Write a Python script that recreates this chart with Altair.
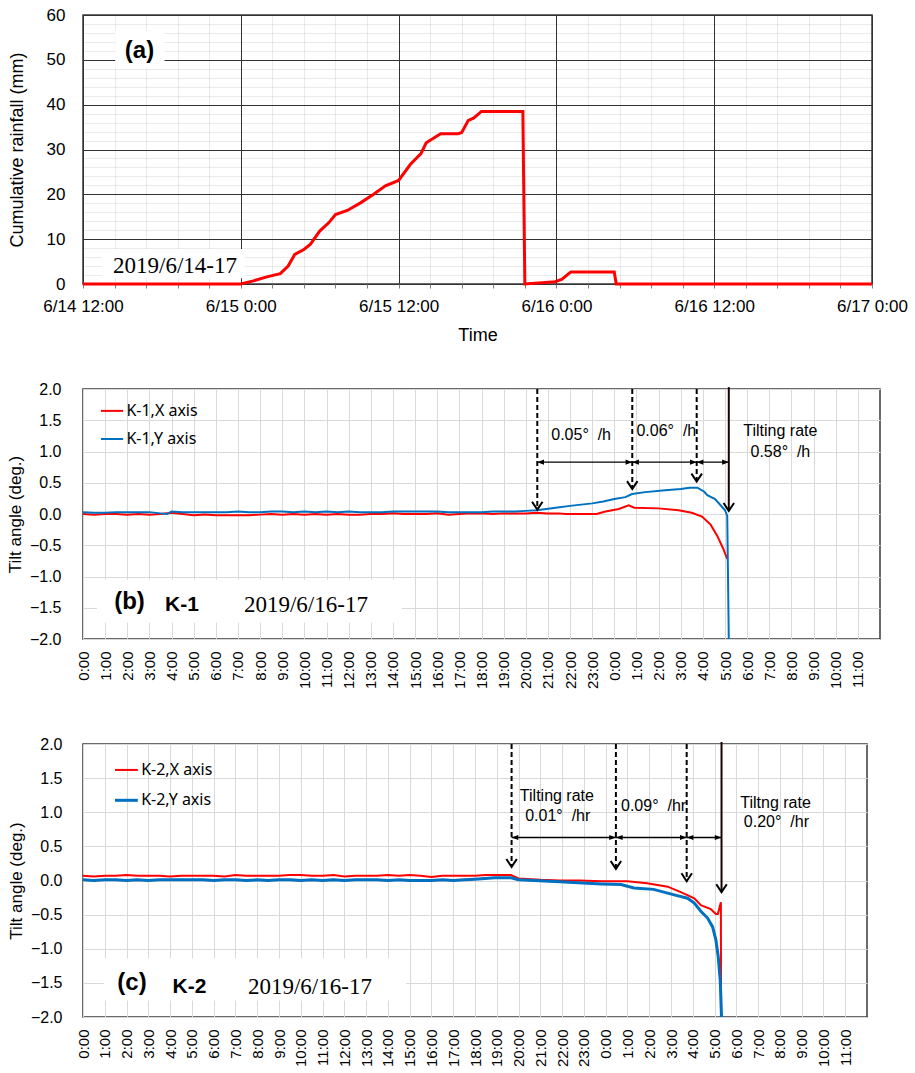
import json
import altair as alt
import pandas as pd

RED = "#ff0000"
BLUE = "#0070c0"
SANS = "Liberation Sans"
SERIF = "Liberation Serif"

# ---------------- Panel (a): cumulative rainfall ----------------
# hours since 6/14 12:00
rain_h = [0, 12.0, 12.96, 13.98, 15.0, 15.6, 16.1, 16.8, 17.3, 18.0, 18.7, 19.2, 20.1, 21.1,
          22.1, 23.0, 24.0, 24.9, 25.7, 26.1, 27.2, 28.5, 28.8, 29.3, 29.7, 30.3, 33.45,
          33.6, 34.9, 35.9, 36.4, 37.1, 40.4, 40.55, 60]
rain_mm = [0, 0, 0.7, 1.6, 2.3, 4.0, 6.6, 7.7, 8.9, 11.8, 13.7, 15.5, 16.4, 18.1,
           20.0, 21.9, 23.1, 26.7, 29.1, 31.5, 33.5, 33.5, 33.8, 36.5, 37.0, 38.5, 38.5,
           0, 0.3, 0.5, 1.0, 2.7, 2.7, 0, 0]
a_x_labels = ["6/14 12:00", "6/15 0:00", "6/15 12:00", "6/16 0:00", "6/16 12:00", "6/17 0:00"]
a_x_ticks = [round(i * 2.4, 4) for i in range(26)]
a_y_ticks = list(range(0, 61, 2))

# annotation texts/boxes for (a)
a_box_h, a_box_h2, a_box_v, a_box_v2 = [2.45, 1.45], [6.2, 12.3], [56.5, 7.8], [48.0, 1.3]
a_txt_h, a_txt_v = [4.3, 7.0], [52.0, 4.0]
a_txt = ["(a)", "2019/6/14-17"]

# ---------------- Panel (b): K-1 ----------------
hour_labels = ["0:00", "1:00", "2:00", "3:00", "4:00", "5:00", "6:00", "7:00", "8:00", "9:00",
               "10:00", "11:00", "12:00", "13:00", "14:00", "15:00", "16:00", "17:00", "18:00",
               "19:00", "20:00", "21:00", "22:00", "23:00", "0:00", "1:00", "2:00", "3:00",
               "4:00", "5:00", "6:00", "7:00", "8:00", "9:00", "10:00", "11:00"]

k1x_h = [0, 0.5, 1, 1.5, 2, 2.5, 3, 3.5, 4, 4.5, 5, 5.5, 6, 6.5, 7, 7.5, 8, 8.5, 9, 9.5, 10,
         10.5, 11, 11.5, 12, 12.5, 13, 13.5, 14, 14.5, 15, 15.5, 16, 16.5, 17, 17.5, 18, 18.5,
         19, 19.5, 20, 20.5, 21, 21.5, 21.8, 22.5, 23.2, 23.6, 24.2, 24.65, 24.9, 26.0, 26.9,
         27.5, 27.96, 28.35, 28.65, 28.9, 29.1]
k1x_v = [0.0, -0.01, 0.0, 0.0, -0.01, 0.0, -0.01, 0.0, 0.02, 0.0, -0.02, -0.01, -0.02, -0.02,
         -0.02, -0.02, -0.01, 0.0, -0.01, 0.0, -0.01, 0.0, -0.01, 0.0, -0.01, -0.01, 0.0, 0.0,
         0.01, 0.0, 0.0, 0.0, 0.01, -0.01, 0.0, 0.01, 0.01, 0.0, 0.01, 0.01, 0.01, 0.02, 0.01,
         0.01, 0.0, 0.0, 0.0, 0.04, 0.08, 0.14, 0.10, 0.09, 0.06, 0.02, -0.04, -0.17, -0.35,
         -0.54, -0.72]
k1y_h = [0, 0.5, 1, 1.5, 2, 2.5, 3, 3.5, 3.8, 4, 4.5, 5, 5.5, 6, 6.5, 7, 7.5, 8, 8.5, 9, 9.5,
         10, 10.5, 11, 11.5, 12, 12.5, 13, 13.5, 14, 14.5, 15, 15.5, 16, 16.5, 17, 17.5, 18,
         18.5, 19, 19.5, 20, 20.5, 21.35, 22, 23, 23.5, 24, 24.5, 24.8, 25.4, 26.3, 27.0,
         27.4, 27.75, 28.05, 28.2, 28.55, 28.9, 29.0, 29.1, 29.17]
k1y_v = [0.03, 0.02, 0.02, 0.03, 0.03, 0.03, 0.03, 0.01, 0.0, 0.04, 0.03, 0.03, 0.03, 0.03,
         0.03, 0.04, 0.03, 0.03, 0.04, 0.04, 0.03, 0.04, 0.03, 0.04, 0.03, 0.04, 0.03, 0.03,
         0.03, 0.04, 0.04, 0.04, 0.04, 0.04, 0.03, 0.03, 0.03, 0.03, 0.04, 0.04, 0.04, 0.05,
         0.06, 0.10, 0.13, 0.17, 0.20, 0.24, 0.27, 0.32, 0.35, 0.38, 0.40, 0.42, 0.42, 0.36,
         0.30, 0.24, 0.10, 0.06, -0.03, -2.0]

b_dash_h, b_dash_tip = [20.52, 24.81, 27.72], [0.07, 0.40, 0.52]
b_solid_h, b_solid_tip = [29.17], [0.05]
b_span_h, b_span_h2, b_span_v = [20.52, 24.81, 27.72], [24.81, 27.72, 29.17], [0.83, 0.83, 0.83]
b_note_h = [22.5, 26.35, 31.5, 31.5]
b_note_v = [1.27, 1.33, 1.33, 1.0]
b_note_t = ["0.05°\u00a0\u00a0/h", "0.06°\u00a0\u00a0/h", "Tilting rate", "0.58°\u00a0\u00a0/h"]
b_leg_h, b_leg_h2, b_leg_v = [0.81, 0.81], [1.81, 1.81], [1.65, 1.2]
b_leg_t = ["K-1,X axis", "K-1,Y axis"]
b_box = ([0.63], [14.4], [-1.05], [-1.74])
b_id_h, b_id_v = [2.1, 4.47, 10.07], [-1.40, -1.45, -1.45]
b_id_t = ["(b)", "K-1", "2019/6/16-17"]

# ---------------- Panel (c): K-2 ----------------
k2x_h = [0, 0.5, 1, 1.5, 2, 2.5, 3, 3.5, 4, 4.5, 5, 5.5, 6, 6.5, 7, 7.5, 8, 8.5, 9, 9.5, 10,
         10.5, 11, 11.5, 12, 12.5, 13, 13.5, 14, 14.5, 15, 15.5, 16, 16.5, 17, 17.5, 18, 18.5,
         19, 19.65, 20.0, 21.0, 21.9, 22.8, 23.8, 25.0, 25.9, 26.85, 27.45, 28.07, 28.37,
         28.83, 29.06, 29.15, 29.29, 29.3]
k2x_v = [0.07, 0.06, 0.07, 0.07, 0.08, 0.07, 0.07, 0.07, 0.06, 0.07, 0.07, 0.07, 0.07, 0.06,
         0.08, 0.07, 0.07, 0.07, 0.07, 0.08, 0.08, 0.07, 0.07, 0.08, 0.06, 0.07, 0.07, 0.07,
         0.08, 0.07, 0.08, 0.07, 0.05, 0.07, 0.07, 0.07, 0.07, 0.08, 0.08, 0.08, 0.03, 0.01,
         0.0, 0.0, -0.01, -0.01, -0.04, -0.09, -0.17, -0.26, -0.36, -0.42, -0.49, -0.49,
         -0.32, -2.0]
k2y_h = [0, 0.5, 1, 1.5, 2, 2.5, 3, 3.5, 4, 4.5, 5, 5.5, 6, 6.5, 7, 7.5, 8, 8.5, 9, 9.5, 10,
         10.5, 11, 11.5, 12, 12.5, 13, 13.5, 14, 14.5, 15, 15.5, 16, 16.5, 17, 17.5, 18, 18.9,
         19.65, 20.0, 21.9, 23.8, 24.7, 25.3, 26.2, 27.15, 27.76, 28.07, 28.37, 28.68, 28.91,
         29.06, 29.17, 29.26, 29.32]
k2y_v = [0.01, 0.0, 0.01, 0.01, 0.0, 0.01, 0.0, 0.01, 0.01, 0.01, 0.01, 0.01, 0.0, 0.01,
         0.01, 0.0, 0.01, 0.0, 0.01, 0.01, 0.0, 0.01, 0.0, 0.01, 0.0, 0.01, 0.01, 0.01, 0.0,
         0.01, 0.0, 0.0, 0.0, 0.01, 0.0, 0.01, 0.02, 0.04, 0.04, 0.01, -0.02, -0.05, -0.06,
         -0.11, -0.13, -0.21, -0.26, -0.33, -0.45, -0.55, -0.68, -0.87, -1.12, -1.46, -2.0]

c_dash_h, c_dash_tip = [19.68, 24.47, 27.72], [0.20, 0.17, -0.01]
c_solid_h, c_solid_tip = [29.32], [-0.17]
c_span_h, c_span_h2, c_span_v = [19.68, 24.47, 27.72], [24.47, 27.72, 29.32], [0.63, 0.63, 0.63]
c_note_h = [21.76, 21.8, 26.2, 31.8, 31.84]
c_note_v = [1.24, 0.95, 1.09, 1.13, 0.85]
c_note_t = ["Tilting rate", "0.01°\u00a0\u00a0/hr", "0.09°\u00a0\u00a0/hr", "Tiltng rate",
            "0.20°\u00a0\u00a0/hr"]
c_leg_h, c_leg_h2, c_leg_v = [1.47, 1.47], [2.52, 2.52], [1.62, 1.175]
c_leg_t = ["K-2,X axis", "K-2,Y axis"]
c_box = ([0.96], [14.83], [-1.14], [-1.76])
c_id_h, c_id_v = [2.25, 4.89, 10.42], [-1.50, -1.56, -1.56]
c_id_t = ["(c)", "K-2", "2019/6/16-17"]


def series(h, v):
    return pd.DataFrame({"h": h, "v": v, "i": list(range(len(h)))})


MINOR = "rgba(0,0,0,0.08)"
MAJOR = "#333333"

# ---------------- build panel (a) ----------------
x_a = alt.X("h:Q", scale=alt.Scale(domain=[0, 60], nice=False, zero=False),
            axis=alt.Axis(values=a_x_ticks,
                          labelExpr=f"round(datum.value/2.4) % 5 === 0 ? {json.dumps(a_x_labels)}[round(datum.value/12)] : ''",
                          grid=True,
                          gridColor={"condition": {"test": "round(datum.value/2.4) % 5 === 0", "value": MAJOR},
                                     "value": MINOR},
                          ticks=True, tickSize=4, tickColor="#808080", labelPadding=10,
                          labelFontSize=17, labelFlush=False, labelOverlap=False,
                          domain=False, title="Time", titleFontSize=18,
                          titleFontWeight="normal", titlePadding=12))
y_a = alt.Y("v:Q", scale=alt.Scale(domain=[0, 60], nice=False),
            axis=alt.Axis(values=a_y_ticks,
                          labelExpr="datum.value % 10 === 0 ? datum.label : ''",
                          grid=True,
                          gridColor={"condition": {"test": "datum.value % 10 === 0", "value": MAJOR},
                                     "value": MINOR},
                          ticks=False, labelPadding=18, labelFontSize=17, domain=False,
                          title="Cumulative rainfall (mm)", titleFontSize=18,
                          titleFontWeight="normal", titlePadding=20))

a_line = alt.Chart(series(rain_h, rain_mm)).mark_line(color=RED, strokeWidth=3).encode(
    x=x_a, y=y_a, order="i:Q")
a_boxes = alt.Chart(pd.DataFrame({"h": a_box_h, "h2": a_box_h2, "v": a_box_v, "v2": a_box_v2})
                    ).mark_rect(color="white").encode(x=x_a, x2="h2", y=y_a, y2="v2")
a_df_t = pd.DataFrame({"h": a_txt_h, "v": a_txt_v, "t": a_txt})
a_t1 = alt.Chart(a_df_t.iloc[[0]]).mark_text(font=SANS, fontSize=24, fontWeight="bold",
                                             color="black").encode(x=x_a, y=y_a, text="t:N")
a_t2 = alt.Chart(a_df_t.iloc[[1]]).mark_text(font=SERIF, fontSize=23,
                                             color="black").encode(x=x_a, y=y_a, text="t:N")
panel_a = alt.layer(a_boxes, a_line, a_t1, a_t2).properties(width=789, height=269)


# ---------------- tilt panel builder ----------------
def tilt_panel(xs, ys, dash, solid, span, notes, leg, leg_t, box, ids, width, height,
               label_pad, blue_w):
    x_t = alt.X("h:Q", scale=alt.Scale(domain=[0, 36], nice=False, zero=False),
                axis=alt.Axis(values=list(range(36)),
                              labelExpr=f"{json.dumps(hour_labels)}[round(datum.value)]",
                              labelAngle=270, labelFontSize=15, ticks=False, labelPadding=12,
                              labelFlush=False, labelOverlap=False, grid=True,
                              gridColor="#d9d9d9", domain=False, title=None))
    y_t = alt.Y("v:Q", scale=alt.Scale(domain=[-2, 2], nice=False),
                axis=alt.Axis(values=[-2, -1.5, -1, -0.5, 0, 0.5, 1, 1.5, 2], format=".1f",
                              labelFontSize=16, ticks=False, labelPadding=label_pad,
                              grid=True, gridColor="#d9d9d9", domain=False,
                              title="Tilt angle (deg.)", titleFontSize=17,
                              titleFontWeight="normal", titlePadding=5))
    layers = []
    # white box under id labels
    layers.append(alt.Chart(pd.DataFrame({"h": box[0], "h2": box[1], "v": box[2], "v2": box[3]})
                            ).mark_rect(color="white").encode(x=x_t, x2="h2", y=y_t, y2="v2"))
    # series
    layers.append(alt.Chart(series(*xs)).mark_line(color=RED, strokeWidth=2, clip=True).encode(
        x=x_t, y=y_t, order="i:Q"))
    layers.append(alt.Chart(series(*ys)).mark_line(color=BLUE, strokeWidth=blue_w, clip=True).encode(
        x=x_t, y=y_t, order="i:Q"))
    # dashed arrows
    dd = pd.DataFrame({"h": dash[0], "v": [2.0] * len(dash[0]), "v2": dash[1]})
    layers.append(alt.Chart(dd).mark_rule(color="black", strokeWidth=2, strokeDash=[5, 3]).encode(
        x=x_t, y=y_t, y2="v2"))
    sd = pd.DataFrame({"h": solid[0], "v": [2.03] * len(solid[0]), "v2": solid[1]})
    layers.append(alt.Chart(sd).mark_rule(color="#1a0000", strokeWidth=2).encode(
        x=x_t, y=y_t, y2="v2"))
    tips = pd.DataFrame({"h": dash[0] + solid[0], "v": dash[1] + solid[1]})
    layers.append(alt.Chart(tips).mark_point(shape="M -1 -1.5 L 0 0 L 1 -1.5", filled=False,
                                             color="black", strokeWidth=2, size=110, opacity=1).encode(
        x=x_t, y=y_t))
    # horizontal span arrows
    sp = pd.DataFrame({"h": span[0], "h2": span[1], "v": span[2]})
    layers.append(alt.Chart(sp).mark_rule(color="black", strokeWidth=1.3).encode(
        x=x_t, x2="h2", y=y_t))
    left_heads = pd.DataFrame({"h": span[0], "v": span[2]})
    right_heads = pd.DataFrame({"h": span[1], "v": span[2]})
    layers.append(alt.Chart(left_heads).mark_point(shape="M 0 0 L 1.6 -0.6 L 1.6 0.6 Z", filled=True,
                                                   color="black", size=70, opacity=1).encode(
        x=x_t, y=y_t))
    layers.append(alt.Chart(right_heads).mark_point(shape="M 0 0 L -1.6 -0.6 L -1.6 0.6 Z", filled=True,
                                                    color="black", size=70, opacity=1).encode(
        x=x_t, y=y_t))
    # notes
    nd = pd.DataFrame({"h": notes[0], "v": notes[1], "t": notes[2]})
    layers.append(alt.Chart(nd).mark_text(font=SANS, fontSize=16, color="black").encode(
        x=x_t, y=y_t, text="t:N"))
    # legend
    ld = pd.DataFrame({"h": leg[0], "h2": leg[1], "v": leg[2], "t": leg_t})
    layers.append(alt.Chart(ld.iloc[[0]]).mark_rule(color=RED, strokeWidth=2).encode(
        x=x_t, x2="h2", y=y_t))
    layers.append(alt.Chart(ld.iloc[[1]]).mark_rule(color=BLUE, strokeWidth=blue_w).encode(
        x=x_t, x2="h2", y=y_t))
    ltd = pd.DataFrame({"h": [a + 0.15 for a in leg[1]], "v": leg[2], "t": leg_t})
    layers.append(alt.Chart(ltd).mark_text(font="Noto Sans", fontSize=16, align="left",
                                           color="black").encode(x=x_t, y=y_t, text="t:N"))
    # id labels
    idf = pd.DataFrame({"h": ids[0], "v": ids[1], "t": ids[2]})
    layers.append(alt.Chart(idf.iloc[[0]]).mark_text(font=SANS, fontSize=24, fontWeight="bold",
                                                     color="black").encode(x=x_t, y=y_t, text="t:N"))
    layers.append(alt.Chart(idf.iloc[[1]]).mark_text(font=SANS, fontSize=21, fontWeight="bold",
                                                     color="black").encode(x=x_t, y=y_t, text="t:N"))
    layers.append(alt.Chart(idf.iloc[[2]]).mark_text(font=SERIF, fontSize=23,
                                                     color="black").encode(x=x_t, y=y_t, text="t:N"))
    return alt.layer(*layers).properties(width=width, height=height)


panel_b = tilt_panel((k1x_h, k1x_v), (k1y_h, k1y_v), (b_dash_h, b_dash_tip),
                     (b_solid_h, b_solid_tip), (b_span_h, b_span_h2, b_span_v),
                     (b_note_h, b_note_v, b_note_t), (b_leg_h, b_leg_h2, b_leg_v), b_leg_t,
                     b_box, (b_id_h, b_id_v, b_id_t), 797, 250, 22, 2)
panel_c = tilt_panel((k2x_h, k2x_v), (k2y_h, k2y_v), (c_dash_h, c_dash_tip),
                     (c_solid_h, c_solid_tip), (c_span_h, c_span_h2, c_span_v),
                     (c_note_h, c_note_v, c_note_t), (c_leg_h, c_leg_h2, c_leg_v), c_leg_t,
                     c_box, (c_id_h, c_id_v, c_id_t), 784, 273, 21, 3)

chart = alt.vconcat(panel_a, panel_b, panel_c, spacing=105, bounds="flush").properties(
    padding={"left": 5, "top": 5, "right": 5, "bottom": 5},
    background="white",
).configure_view(stroke="#3a3a3a", strokeWidth=1.5).configure_axis(
    labelFont=SANS, titleFont=SANS, labelColor="black", titleColor="black")

chart.save("out.html", embed_options={"renderer": "svg", "actions": False})
